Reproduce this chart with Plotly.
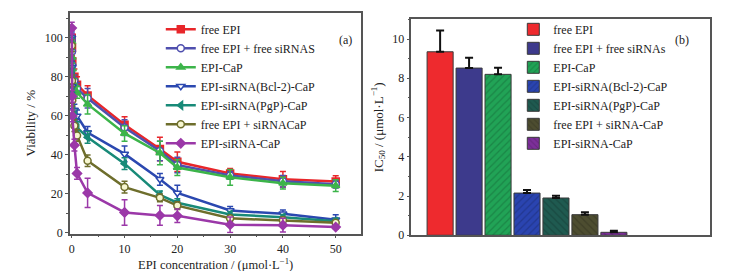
import plotly.graph_objects as go

# ---------------- data: panel (a) ----------------
conc = [0, 0.05, 0.1, 0.5, 1, 3, 10, 16.7, 20, 30, 40, 50]

names_a = ["free EPI", "free EPI + free siRNAS", "EPI-CaP", "EPI-siRNA(Bcl-2)-CaP",
           "EPI-siRNA(PgP)-CaP", "free EPI + siRNACaP", "EPI-siRNA-CaP"]

via_free_epi = [100, 95, 88, 80, 76, 70.5, 55.5, 43, 36.5, 30.5, 27.5, 26.3]
via_free_sirna = [99, 93, 86, 78, 74, 69, 54, 42, 34.8, 29.5, 26.5, 25]
via_epi_cap = [98, 90, 84, 76, 72, 66, 51, 41, 33.5, 28.5, 25.5, 24.2]
via_bcl2 = [100, 85, 75, 63, 60, 51.5, 40.5, 27.5, 20.5, 11.5, 9.8, 6.8]
via_pgp = [97, 82, 72, 60, 54, 49, 35.5, 19.5, 15.5, 9.5, 8, 6]
via_free_sicap = [96, 78, 68, 55, 50, 37, 23.5, 18, 14, 7.5, 6.5, 5.2]
via_epi_sicap = [105, 70, 60, 45, 30.5, 20.5, 10.5, 9, 8.8, 4.2, 4, 3]

err_free_epi = [4, 4, 4, 4, 4, 5, 4, 6, 5, 2.5, 4, 3]
err_free_sirna = [3, 3, 3, 3, 3, 5, 4, 5, 4, 2, 3, 2]
err_epi_cap = [3, 3, 3, 3, 3, 5, 4, 6, 4, 4, 3, 3]
err_bcl2 = [3, 3, 3, 3, 3, 3, 4, 3, 4, 2, 2, 2.5]
err_pgp = [3, 3, 3, 3, 3, 3, 3, 2, 2, 1.5, 1.5, 1.5]
err_free_sicap = [3, 3, 3, 3, 3, 3, 3, 2, 2, 1.5, 1.5, 1]
err_epi_sicap = [3, 3, 3, 3, 3, 7.5, 6.5, 5, 3.5, 4, 3.5, 1]

# ---------------- data: panel (b) ----------------
names_b = ["free EPI", "free EPI + free siRNAs", "EPI-CaP", "EPI-siRNA(Bcl-2)-CaP",
           "EPI-siRNA(PgP)-CaP", "free EPI + siRNA-CaP", "EPI-siRNA-CaP"]
ic50 = [9.35, 8.52, 8.2, 2.15, 1.9, 1.05, 0.15]
ic50_err = [1.08, 0.53, 0.33, 0.16, 0.12, 0.12, 0.08]

# ---------------- styles ----------------
colors = ["#e8262a", "#4f4fae", "#3cb44a", "#2b48b0", "#188a78", "#6e6e2c", "#9b38a8"]
bar_colors = ["#ee2a2e", "#3d3a8c", "#21a356", "#2a44b0", "#1f5a50", "#4d4d30", "#7d2f9a"]
bar_patterns = ["", "", "/", "/", "\\", "\\", "\\"]
symbols = ["square", "circle", "triangle-up", "triangle-down", "triangle-left", "circle", "diamond"]
fills = [None, "white", None, "white", None, "#f6f6d0", None]

series = [via_free_epi, via_free_sirna, via_epi_cap, via_bcl2, via_pgp, via_free_sicap, via_epi_sicap]
errors = [err_free_epi, err_free_sirna, err_epi_cap, err_bcl2, err_pgp, err_free_sicap, err_epi_sicap]

FONT = "Liberation Serif"
W, H = 732, 271

fig = go.Figure()

for i, (nm, ys, es) in enumerate(zip(names_a, series, errors)):
    c = colors[i]
    fig.add_trace(go.Scatter(
        x=conc, y=ys, name=nm, mode="lines+markers",
        line=dict(color=c, width=2.5),
        marker=dict(symbol=symbols[i], size=7,
                    color=fills[i] if fills[i] else c,
                    line=dict(color=c, width=1.5)),
        error_y=dict(type="data", array=es, color=c, thickness=1.5, width=3),
        xaxis="x", yaxis="y", legend="legend",
    ))

for i, nm in enumerate(names_b):
    pat = dict(shape=bar_patterns[i], fgcolor="rgba(0,0,0,0.35)", size=5, solidity=0.25) \
        if bar_patterns[i] else None
    mk = dict(color=bar_colors[i], line=dict(color="#3a3a3a", width=1))
    if pat:
        mk["pattern"] = pat
    fig.add_trace(go.Bar(
        x=[i], y=[ic50[i]], name=nm, width=0.9,
        marker=mk,
        error_y=dict(type="data", array=[ic50_err[i]], arrayminus=[0],
                     color="#111", thickness=2, width=4),
        xaxis="x2", yaxis="y2", legend="legend2",
    ))


def px_x(p):
    return p / W


def px_y(p):
    return 1 - p / H


axis_common = dict(showline=True, linecolor="#555", linewidth=1.5, mirror=True,
                   ticks="outside", ticklen=3, tickwidth=1.2, tickcolor="#555",
                   showgrid=False, zeroline=False,
                   tickfont=dict(family=FONT, size=12, color="#222"))

fig.update_layout(
    width=W, height=H,
    margin=dict(l=0, r=0, t=0, b=0),
    paper_bgcolor="white", plot_bgcolor="white",
    barmode="overlay",
    font=dict(family=FONT, size=12, color="#222"),
    xaxis=dict(domain=[px_x(61), px_x(352)], range=[-0.35, 54.7],
               tickvals=[0, 10, 20, 30, 40, 50],
               minor=dict(dtick=5, ticks="outside", ticklen=2, tickcolor="#555"),
               anchor="y", **axis_common),
    yaxis=dict(domain=[px_y(231.5), px_y(5)], range=[-0.3, 112.8],
               tickvals=[0, 20, 40, 60, 80, 100],
               minor=dict(dtick=10, ticks="outside", ticklen=2, tickcolor="#555"),
               title=dict(text="Viability / %", font=dict(family=FONT, size=13), standoff=6),
               anchor="x", **axis_common),
    xaxis2=dict(domain=[px_x(403), px_x(702)], range=[-0.99, 9.32],
                showticklabels=False, anchor="y2",
                showline=True, linecolor="#555", linewidth=1.5, mirror=True,
                ticks="", showgrid=False, zeroline=False),
    yaxis2=dict(domain=[px_y(233.3), px_y(11.7)], range=[0, 11],
                tickvals=[0, 2, 4, 6, 8, 10],
                minor=dict(dtick=1, ticks="outside", ticklen=2, tickcolor="#555"),
                title=dict(text="IC<sub>50</sub> / (μmol·L<sup>−1</sup>)",
                           font=dict(family=FONT, size=13), standoff=6),
                anchor="x2", **axis_common),
    legend=dict(x=px_x(152), y=px_y(7), xanchor="left", yanchor="top",
                bgcolor="rgba(0,0,0,0)", borderwidth=0,
                font=dict(family=FONT, size=12, color="#222"),
                tracegroupgap=0, itemwidth=30),
    legend2=dict(x=px_x(505), y=px_y(7), xanchor="left", yanchor="top",
                 bgcolor="rgba(0,0,0,0)", borderwidth=0,
                 font=dict(family=FONT, size=12, color="#222"),
                 tracegroupgap=0),
    annotations=[
        dict(text="(a)", x=px_x(337), y=px_y(24), xref="paper", yref="paper",
             showarrow=False, font=dict(family=FONT, size=12, color="#222")),
        dict(text="(b)", x=px_x(683), y=px_y(24), xref="paper", yref="paper",
             showarrow=False, font=dict(family=FONT, size=12, color="#222")),
        dict(text="EPI concentration / (μmol·L<sup>−1</sup>)", x=px_x(207), y=px_y(263),
             xref="paper", yref="paper", xanchor="center", yanchor="middle",
             showarrow=False, font=dict(family=FONT, size=12.5, color="#222")),
    ],
)

fig.write_html("out.html")
